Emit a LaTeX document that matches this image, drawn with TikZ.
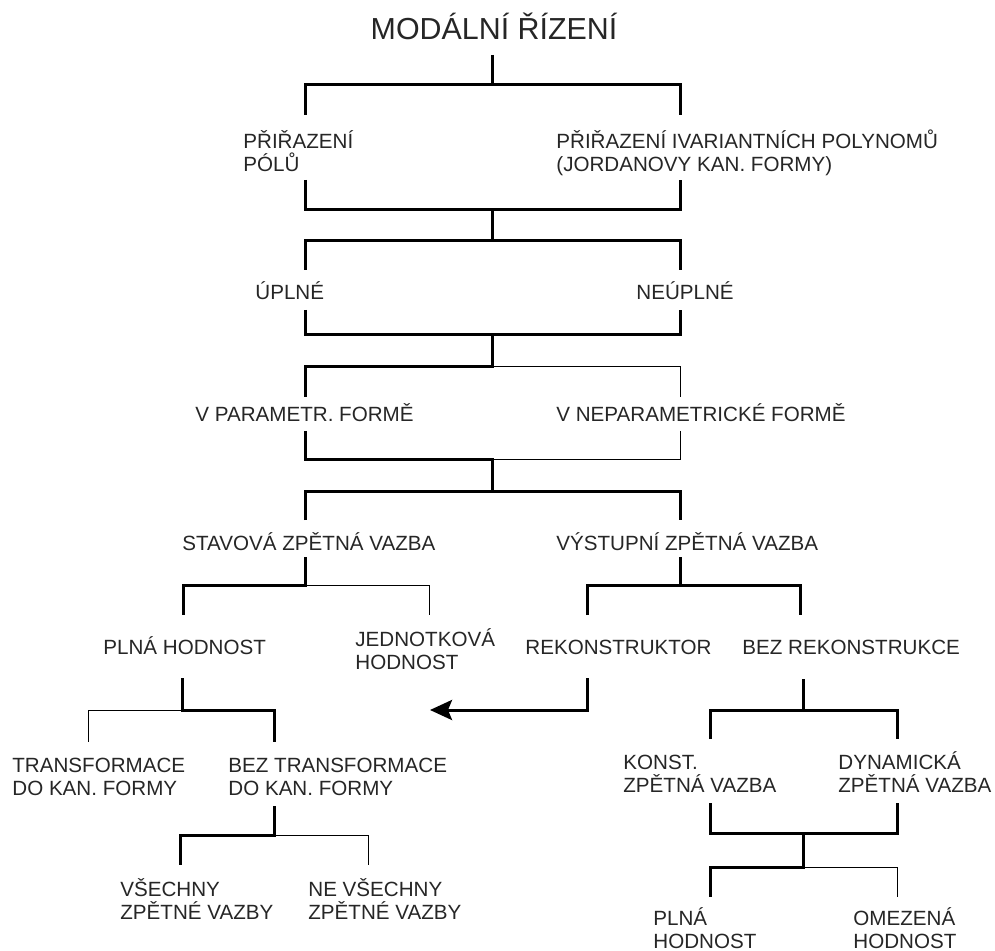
\documentclass[tikz,border=0pt]{standalone}
\usepackage{fontspec}
\setmainfont{Liberation Sans}
\usetikzlibrary{arrows.meta}
\tikzset{
  heavy/.style={line width=1.5pt},
  light/.style={line width=0.5pt},
  lbl/.style={inner sep=0pt, anchor=base west, align=left,
    font=\fontsize{10.3}{11.5}\selectfont, text=black!85},
}
\begin{document}
\begin{tikzpicture}[x=0.5pt, y=-0.5pt]
  \useasboundingbox (0,0) rectangle (995,951);
  % labels (base = last line)
  \node[lbl, anchor=base, font=\fontsize{15.2}{18}\selectfont] (title) at (494,40) {MODÁLNÍ ŘÍZENÍ};
  \node[lbl] (pole) at (243,172) {PŘIŘAZENÍ\\PÓLŮ};
  \node[lbl] (invar) at (556,172) {PŘIŘAZENÍ IVARIANTNÍCH POLYNOMŮ\\(JORDANOVY KAN. FORMY)};
  \node[lbl] (full) at (255,300) {ÚPLNÉ};
  \node[lbl] (partial) at (636,300) {NEÚPLNÉ};
  \node[lbl] (param) at (195,422) {V PARAMETR. FORMĚ};
  \node[lbl] (nonparam) at (556,422) {V NEPARAMETRICKÉ FORMĚ};
  \node[lbl] (state) at (182,550) {STAVOVÁ ZPĚTNÁ VAZBA};
  \node[lbl] (output) at (556,550) {VÝSTUPNÍ ZPĚTNÁ VAZBA};
  \node[lbl] (fullrank) at (103,654) {PLNÁ HODNOST};
  \node[lbl] (unitrank) at (355,669) {JEDNOTKOVÁ\\HODNOST};
  \node[lbl] (recon) at (525,654) {REKONSTRUKTOR};
  \node[lbl] (norecon) at (742,654) {BEZ REKONSTRUKCE};
  \node[lbl] (transf) at (12,795) {TRANSFORMACE\\DO KAN. FORMY};
  \node[lbl] (notransf) at (228,795) {BEZ TRANSFORMACE\\DO KAN. FORMY};
  \node[lbl] (constfb) at (623,792) {KONST.\\ZPĚTNÁ VAZBA};
  \node[lbl] (dynfb) at (838,792) {DYNAMICKÁ\\ZPĚTNÁ VAZBA};
  \node[lbl] (allfb) at (120,919) {VŠECHNY\\ZPĚTNÉ VAZBY};
  \node[lbl] (notallfb) at (308,919) {NE VŠECHNY\\ZPĚTNÉ VAZBY};
  \node[lbl] (plnarank) at (653,948) {PLNÁ\\HODNOST};
  \node[lbl] (limrank) at (853,948) {OMEZENÁ\\HODNOST};
  % junctions
  \coordinate (j1) at (492,85);
  \coordinate (j2) at (492,210);
  \coordinate (j3) at (492,241);
  \coordinate (j4) at (492,335);
  \coordinate (j5) at (492,367);
  \coordinate (j6) at (492,460);
  \coordinate (j7) at (492,492);
  \coordinate (j8) at (305,585);
  \coordinate (j9) at (680,585);
  \coordinate (j10) at (182,710);
  \coordinate (j11) at (803,710);
  \coordinate (j12) at (274,835);
  \coordinate (j13) at (803,833);
  \coordinate (j14) at (803,867);
  \coordinate (tip) at (430,710);
  % brackets
  \begin{scope}[heavy]
    \draw (j1 |- 0,55) -- (j1);
    \draw (305,115) |- (j1) -| (680,115);
    \draw (305,180) |- (j2) -| (680,180);
    \draw (j2) -- (j3);
    \draw (305,270) |- (j3) -| (680,270);
    \draw (305,310) |- (j4) -| (680,310);
    \draw (j4) -- (j5) -| (305,397);
    \draw (305,431) |- (j6) -- (j7);
    \draw (305,520) |- (j7) -| (680,520);
    \draw (305,557) -- (j8) -- (183,585) -- (183,615);
    \draw (680,557) -- (j9);
    \draw (587,615) |- (j9) -| (800,615);
    \draw (182,678) -- (j10) -- (274,710) -- (274,742);
    \draw (803,679) -- (j11);
    \draw (710,739) |- (j11) -| (897,739);
    \draw (710,803) |- (j13) -| (897,803);
    \draw (j13) -- (j14) -| (710,897);
    \draw (274,806) -- (j12) -| (180,865);
    \draw[-{Stealth[length=11pt, width=10pt, inset=2pt]}] (587,678) |- (tip);
  \end{scope}
  \begin{scope}[light]
    \draw (j5) -| (680,397);
    \draw (680,431) |- (j6);
    \draw (j8) -| (429,615);
    \draw (j10) -| (88,742);
    \draw (j14) -| (897,897);
    \draw (j12) -| (368,865);
  \end{scope}
\end{tikzpicture}
\end{document}
